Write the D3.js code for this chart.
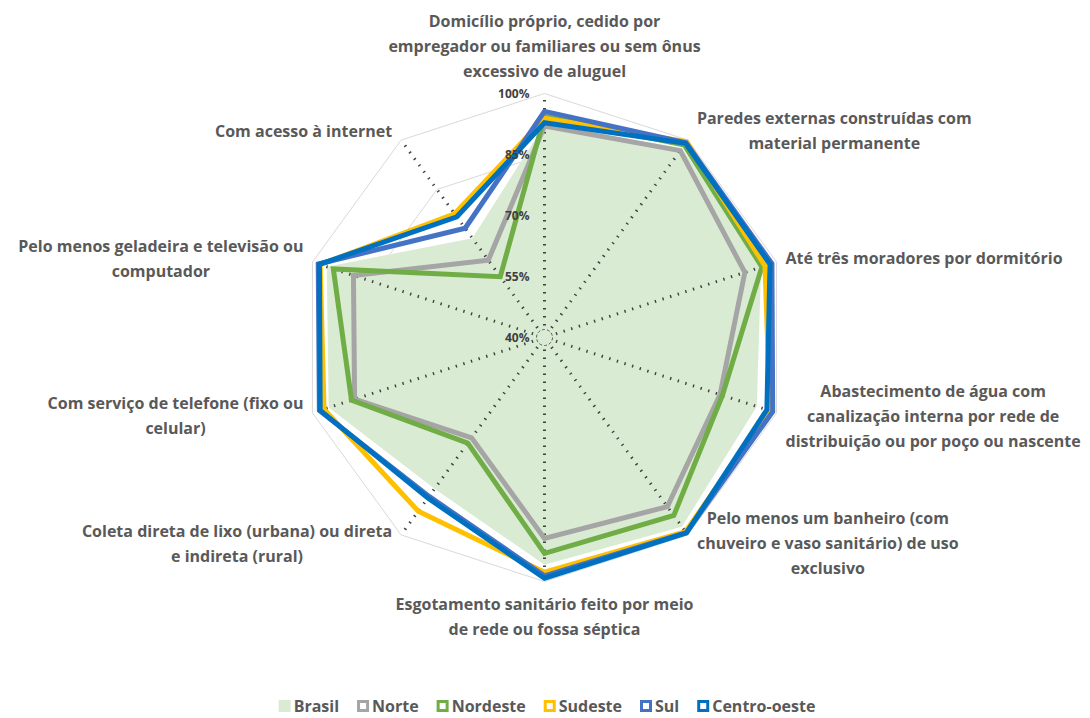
<!DOCTYPE html>
<html>
<head>
<meta charset="utf-8">
<script src="https://cdn.jsdelivr.net/npm/d3@7"></script>
<style>
body { margin: 0; background: #fff; }
text { font-family: "Open Sans", "Noto Sans", sans-serif; }
</style>
</head>
<body>
<div id="chart"></div>
<script>
// axes, clockwise from the top
var categories = [
	"Domicílio próprio, cedido por\nempregador ou familiares ou sem ônus\nexcessivo de aluguel",
	"Paredes externas construídas com\nmaterial permanente",
	"Até três moradores por dormitório",
	"Abastecimento de água com\ncanalização interna por rede de\ndistribuição ou por poço ou nascente",
	"Pelo menos um banheiro (com\nchuveiro e vaso sanitário) de uso\nexclusivo",
	"Esgotamento sanitário feito por meio\nde rede ou fossa séptica",
	"Coleta direta de lixo (urbana) ou direta\ne indireta (rural)",
	"Com serviço de telefone (fixo ou\ncelular)",
	"Pelo menos geladeira e televisão ou\ncomputador",
	"Com acesso à internet"
]
var ticks = [40, 55, 70, 85, 100]

var brasil      = [92.3, 97.6, 96.0, 94.9, 97.5, 95.9, 86.0, 95.8, 96.3, 70.2]
var norte       = [92.0, 96.8, 91.8, 85.4, 91.4, 89.4, 70.5, 89.1, 89.4, 63.5]
var nordeste    = [94.4, 98.5, 96.2, 86.0, 94.1, 93.1, 72.1, 89.9, 94.6, 58.5]
var sudeste     = [93.9, 99.5, 97.0, 98.3, 99.0, 97.7, 92.8, 97.0, 98.0, 77.6]
var sul         = [95.6, 99.2, 98.8, 99.0, 99.3, 98.6, 88.3, 98.2, 98.5, 73.2]
var centroOeste = [92.8, 99.0, 98.3, 97.5, 99.4, 99.2, 88.8, 98.0, 98.2, 76.7]

var seriesNames = ["Norte", "Nordeste", "Sudeste", "Sul", "Centro-oeste"]
var seriesValues = [norte, nordeste, sudeste, sul, centroOeste]
var seriesColors = ["#A5A5A5", "#70AD47", "#FFC000", "#4472C4", "#0070C0"]
var brasilColor = "#DAEBD3"

var width = 1090, height = 718
var cx = 544.5, cy = 337.5, R = 244
var n = categories.length

var svg = d3.select("#chart").append("svg").attr("width", width).attr("height", height)
var g = svg.append("g").attr("transform", "translate(" + cx + "," + cy + ")")

var r = d3.scaleLinear().domain([40, 100]).range([0, R])
var angle = d3.scaleLinear().domain([0, n]).range([0, 2 * Math.PI])

var radar = d3.lineRadial()
	.angle(function(d, i) { return angle(i) })
	.radius(function(d) { return r(d) })
	.curve(d3.curveLinearClosed)

// gridlines
g.selectAll(".grid").data(ticks.slice(1)).enter()
	.append("path")
	.attr("d", function(t) { return radar(categories.map(function() { return t })) })
	.attr("fill", "none")
	.attr("stroke", "#D9D9D9")
	.attr("stroke-width", 1)

// Brasil area
g.append("path")
	.attr("d", radar(brasil))
	.attr("fill", brasilColor)

// spokes
g.selectAll(".spoke").data(categories).enter()
	.append("line")
	.attr("x1", function(d, i) { return 12 * Math.sin(angle(i)) })
	.attr("y1", function(d, i) { return -12 * Math.cos(angle(i)) })
	.attr("x2", function(d, i) { return r(100) * Math.sin(angle(i)) })
	.attr("y2", function(d, i) { return -r(100) * Math.cos(angle(i)) })
	.attr("stroke", "#404040")
	.attr("stroke-width", 3)
	.attr("stroke-dasharray", "1.4 6.6")

g.append("circle").attr("r", 8)
	.attr("fill", "none")
	.attr("stroke", "#595959")
	.attr("stroke-width", 1)
	.attr("stroke-dasharray", "3 2")

// region lines
g.selectAll(".series").data(seriesValues).enter()
	.append("path")
	.attr("d", function(d) { return radar(d) })
	.attr("fill", "none")
	.attr("stroke", function(d, i) { return seriesColors[i] })
	.attr("stroke-width", 5)
	.attr("stroke-linejoin", "miter")

// tick labels
g.selectAll(".tick").data(ticks).enter()
	.append("text")
	.attr("x", -15)
	.attr("y", function(t) { return -r(t) })
	.attr("dy", "0.35em")
	.attr("text-anchor", "end")
	.attr("font-size", 12)
	.attr("font-weight", 700)
	.attr("fill", "#404040")
	.text(function(t) { return t + "%" })

// axis labels
var lineH = 25
categories.forEach(function(label, i) {
	var lines = label.split("\n")
	var a = angle(i)
	var s = Math.sin(a), c = Math.cos(a)
	var vx = R * s, vy = -R * c
	var t = g.append("text")
		.attr("font-size", 16)
		.attr("font-weight", 700)
		.attr("fill", "#595959")
		.attr("text-anchor", "middle")
	var spans = lines.map(function(l) { return t.append("tspan").text(l) })
	var w = d3.max(spans, function(sp) { return sp.node().getComputedTextLength() })
	var bx, by
	if (Math.abs(s) < 0.1) {
		bx = vx
		if (c > 0) by = vy - 14 - (lines.length - 1) * lineH / 2 - 8
		else by = vy + 14 + (lines.length - 1) * lineH / 2 + 9
	} else {
		bx = s > 0 ? vx + 9 + w / 2 : vx - 9 - w / 2
		by = vy - c * 11
	}
	spans.forEach(function(sp, k) {
		sp.attr("x", bx).attr("y", by + (k - (lines.length - 1) / 2) * lineH).attr("dy", "0.35em")
	})
})

// legend
var legendNames = ["Brasil"].concat(seriesNames)
var legend = svg.append("g").attr("transform", "translate(0,706)")
var items = legendNames.map(function(name, i) {
	var it = legend.append("g")
	if (i == 0) {
		it.append("rect").attr("x", 0).attr("y", -6).attr("width", 12).attr("height", 12).attr("fill", brasilColor)
	} else {
		it.append("rect").attr("x", 1.5).attr("y", -4.5).attr("width", 9).attr("height", 9)
			.attr("fill", "#fff").attr("stroke", seriesColors[i - 1]).attr("stroke-width", 3)
	}
	var tx = it.append("text").attr("x", 15).attr("dy", "0.35em")
		.attr("font-size", 16).attr("font-weight", 700).attr("fill", "#595959").text(name)
	return { g: it, w: 15 + tx.node().getComputedTextLength() }
})
var gap = 18
var total = d3.sum(items, function(d) { return d.w }) + gap * (items.length - 1)
var x0 = 547 - total / 2
items.forEach(function(d) {
	d.g.attr("transform", "translate(" + x0 + ",0)")
	x0 += d.w + gap
})
</script>
</body>
</html>
